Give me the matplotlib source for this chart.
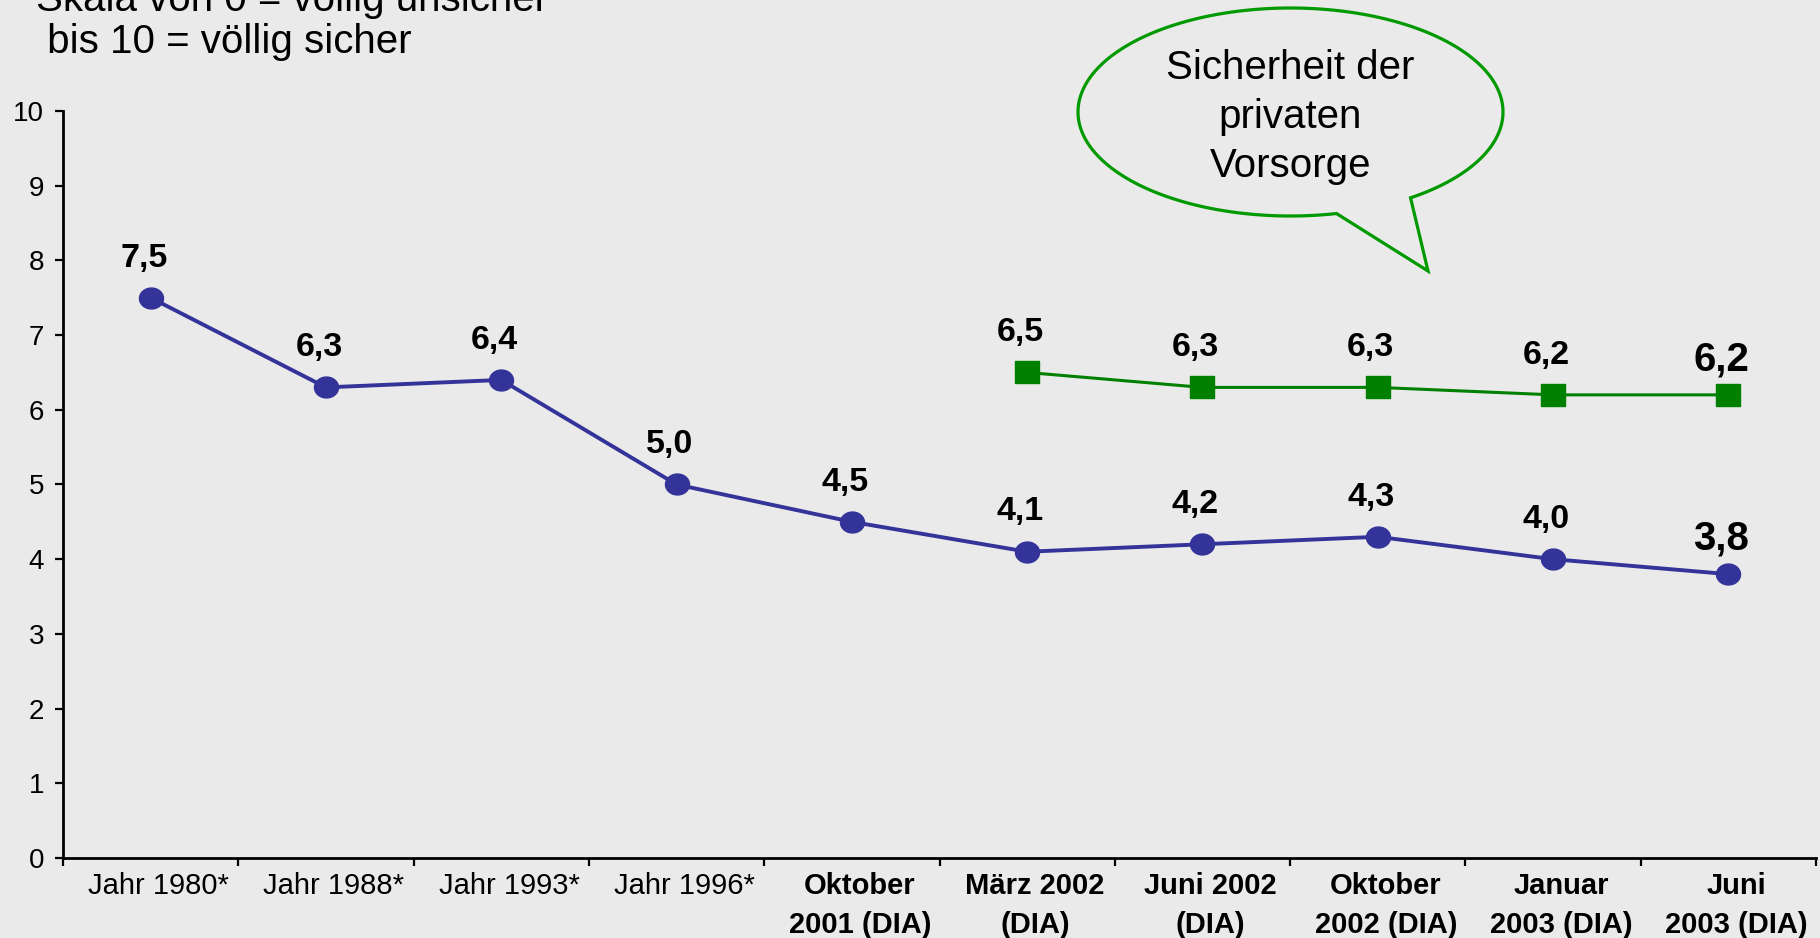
import numpy as np
import matplotlib
matplotlib.use('Agg')
import matplotlib.pyplot as plt
import matplotlib.transforms as mtransforms
from matplotlib.path import Path
from matplotlib.patches import PathPatch

# Daten: Sicherheit der Rente (Skala 0-10)
categories = ['Jahr 1980*', 'Jahr 1988*', 'Jahr 1993*', 'Jahr 1996*',
              'Oktober\n2001 (DIA)', 'März 2002\n(DIA)', 'Juni 2002\n(DIA)',
              'Oktober\n2002 (DIA)', 'Januar\n2003 (DIA)', 'Juni\n2003 (DIA)']
bold_from = 4  # ab hier DIA-Umfragen, fett beschriftet
gesetzlich = [7.5, 6.3, 6.4, 5.0, 4.5, 4.1, 4.2, 4.3, 4.0, 3.8]
privat = [np.nan, np.nan, np.nan, np.nan, np.nan, 6.5, 6.3, 6.3, 6.2, 6.2]

title_text = 'Skala von 0 = völlig unsicher\n bis 10 = völlig sicher'
callout_text = 'Sicherheit der\nprivaten\nVorsorge'

BG = '#EAEAEA'
BLUE = '#333399'
GREEN = '#008000'
W, H = 1820, 938

plt.rcParams['font.family'] = ['Liberation Sans', 'DejaVu Sans']

fig = plt.figure(figsize=(W / 100, H / 100), dpi=100, facecolor=BG)
ax = fig.add_axes([63 / W, 1 - 858 / H, (1816 - 63) / W, (858 - 111) / H])
ax.set_facecolor(BG)

# leicht gestauchte Marker wie im Original
t = np.linspace(0, 2 * np.pi, 80)
ellipse_marker = np.column_stack([np.cos(t), 0.87 * np.sin(t)])
rect_marker = [(-1, -0.88), (1, -0.88), (1, 0.88), (-1, 0.88), (-1, -0.88)]

x = np.arange(len(categories))
ax.plot(x, gesetzlich, color=BLUE, lw=2.8, marker=ellipse_marker, ms=17.3,
        clip_on=False, zorder=3)
ax.plot(x, privat, color=GREEN, lw=2.2, marker=rect_marker, ms=17.3,
        clip_on=False, zorder=3)

# Wertebeschriftungen
for series in (gesetzlich, privat):
    last = len(series) - 1
    for i, v in enumerate(series):
        if np.isnan(v):
            continue
        big = i == last
        ax.annotate(f'{v:.1f}'.replace('.', ','), (i, v),
                    xytext=(-5, 17.5 if big else 22.5), textcoords='offset points',
                    ha='center', va='baseline', fontweight='bold',
                    fontsize=29 if big else 24.5, annotation_clip=False)

ax.set_xlim(-0.5, len(categories) - 0.5)
ax.set_ylim(0, 10)
ax.set_yticks(range(11))
ax.set_xticks(x)
ax.set_xticklabels(categories)
ax.set_xticks(np.arange(-0.5, len(categories), 1), minor=True)
ax.tick_params(axis='x', which='major', length=0, pad=10, labelsize=21)
ax.tick_params(axis='x', which='minor', length=5.5, width=1.6, direction='out')
ax.tick_params(axis='y', length=5.5, width=1.6, pad=8, labelsize=20)
shift = mtransforms.ScaledTranslation(8 / 100, 0, fig.dpi_scale_trans)
for i, lbl in enumerate(ax.get_xticklabels()):
    lbl.set_linespacing(1.52)
    lbl.set_transform(lbl.get_transform() + shift)
    if i >= bold_from:
        lbl.set_fontweight('bold')

for s in ('top', 'right'):
    ax.spines[s].set_visible(False)
for s in ('left', 'bottom'):
    ax.spines[s].set_linewidth(2)

# Skalenhinweis (oben angeschnitten wie im Original)
fig.text(36 / W, 1 - 53 / H, title_text, ha='left', va='baseline',
         fontsize=29, linespacing=1.13)

# Sprechblase
cx, cy, a, b = 1290.5, 112, 212.5, 104
ang = np.linspace(np.deg2rad(-55.6), np.deg2rad(282.5), 200)
pts = [(cx + a * np.cos(p), cy - b * np.sin(p)) for p in ang]
pts += [(1428, 271), pts[0]]
pts = [(px / W, 1 - py / H) for px, py in pts]
codes = [Path.MOVETO] + [Path.LINETO] * (len(pts) - 2) + [Path.CLOSEPOLY]
bubble = PathPatch(Path(pts, codes), facecolor=BG, edgecolor='#009900',
                   lw=2.3, transform=fig.transFigure, zorder=5)
fig.add_artist(bubble)
fig.text(cx / W, 1 - 177 / H, callout_text, ha='center', va='baseline',
         fontsize=29, linespacing=1.36, zorder=6)

fig.savefig('out.png', dpi=100, facecolor=BG)
